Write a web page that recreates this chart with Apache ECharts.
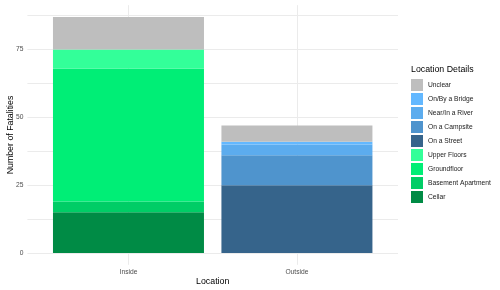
<!DOCTYPE html>
<html>
<head>
<meta charset="utf-8">
<script src="https://cdn.jsdelivr.net/npm/echarts@6/dist/echarts.min.js"></script>
<style>html,body{margin:0;padding:0;background:#fff}#c{width:500px;height:290px}</style>
</head>
<body>
<div id="c"></div>
<script>
const categories = ['Inside', 'Outside'];
const legendOrder = ['Unclear', 'On/By a Bridge', 'Near/In a River', 'On a Campsite', 'On a Street', 'Upper Floors', 'Groundfloor', 'Basement Apartment', 'Cellar'];
const unclear = [12, 6];
const bridge = [0, 1];
const river = [0, 4];
const campsite = [0, 11];
const street = [0, 25];
const upperFloors = [7, 0];
const groundfloor = [49, 0];
const basement = [4, 0];
const cellar = [15, 0];
const yTickLabels = [0, 25, 50, 75];
const yGrid = [0, 12.5, 25, 37.5, 50, 62.5, 75, 87.5];

const colors = {
  'Unclear': '#bebebe',
  'On/By a Bridge': '#63b8ff',
  'Near/In a River': '#5cacee',
  'On a Campsite': '#4f94cd',
  'On a Street': '#36648b',
  'Upper Floors': '#33ff99',
  'Groundfloor': '#00ee76',
  'Basement Apartment': '#00cd66',
  'Cellar': '#008b45'
};
const valuesByName = {
  'Unclear': unclear, 'On/By a Bridge': bridge, 'Near/In a River': river,
  'On a Campsite': campsite, 'On a Street': street, 'Upper Floors': upperFloors,
  'Groundfloor': groundfloor, 'Basement Apartment': basement, 'Cellar': cellar
};
const stackOrder = legendOrder.slice().reverse();
const font = 'Liberation Sans, Arial, sans-serif';

const series = stackOrder.map(name => ({
  name: name,
  type: 'bar',
  stack: 'total',
  barWidth: 151,
  itemStyle: { color: colors[name] },
  emphasis: { disabled: true },
  encode: { x: 1, y: 0 },
  data: valuesByName[name].map((v, i) => [v, i + 1])
}));

const chart = echarts.init(document.getElementById('c'), null, { renderer: 'canvas' });
chart.setOption({
  animation: false,
  backgroundColor: '#fff',
  textStyle: { fontFamily: font },
  title: {
    text: 'Location Details', left: 411, top: 65, padding: 0,
    textStyle: { fontFamily: font, fontSize: 8.8, fontWeight: 'normal', color: '#000' }
  },
  legend: {
    orient: 'vertical', left: 411, top: 79, padding: 0,
    itemWidth: 12, itemHeight: 12, itemGap: 2,
    icon: 'rect',
    data: legendOrder,
    selectedMode: false,
    textStyle: { fontFamily: font, fontSize: 6.7, color: '#1a1a1a' }
  },
  grid: { left: 27.4, right: 102, top: 5.2, bottom: 25.2, containLabel: false, outerBoundsMode: 'none' },
  xAxis: {
    type: 'value', min: 0.4, max: 2.6,
    name: 'Location', nameLocation: 'middle', nameGap: 12, nameMoveOverlap: false,
    nameTextStyle: { fontFamily: font, fontSize: 8.8, color: '#000' },
    axisLine: { show: false },
    axisTick: { show: false, customValues: [1, 2] },
    axisLabel: {
      customValues: [1, 2], formatter: v => categories[Math.round(v) - 1],
      fontFamily: font, fontSize: 6.7, color: '#4d4d4d', margin: 4
    },
    splitLine: { show: true, lineStyle: { color: '#ebebeb', width: 1 } }
  },
  yAxis: {
    type: 'value', min: -4.35, max: 91.35,
    name: 'Number of Fatalities', nameLocation: 'middle', nameGap: 12, nameMoveOverlap: false,
    nameTextStyle: { fontFamily: font, fontSize: 8.8, color: '#000' },
    axisLine: { show: false },
    axisTick: { show: false, customValues: yGrid },
    axisLabel: {
      customValues: yTickLabels,
      fontFamily: font, fontSize: 6.7, color: '#4d4d4d', margin: 4
    },
    splitLine: { show: true, lineStyle: { color: '#ebebeb', width: 1 } }
  },
  series: series
});
</script>
</body>
</html>
